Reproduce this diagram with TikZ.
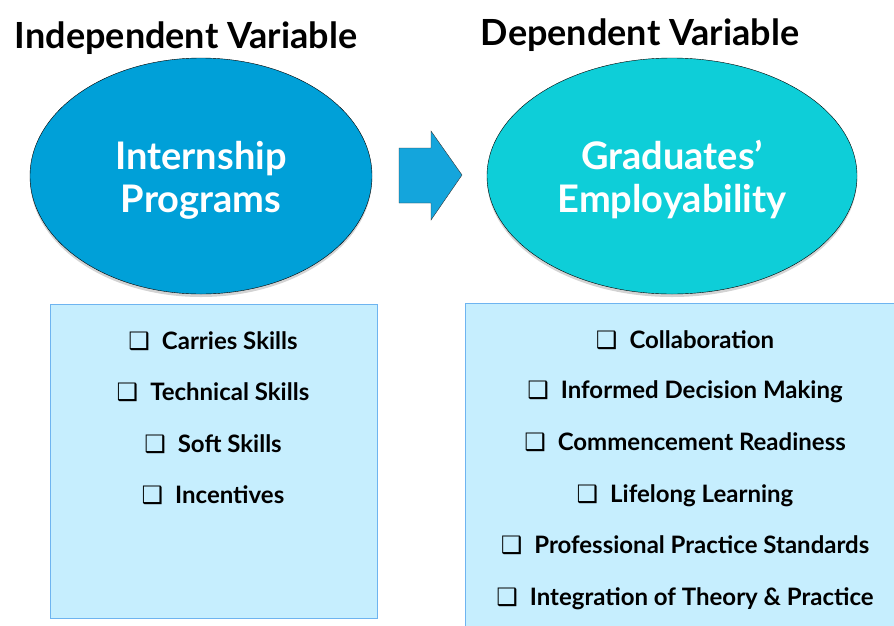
\documentclass[tikz,border=0pt]{standalone}
\usepackage{fontspec}
\setmainfont{Lato}
\newfontfamily\boxfont{DejaVu Sans}
\usetikzlibrary{shapes.geometric,shadows}

\definecolor{ivblue}{RGB}{0,160,216}
\definecolor{dvcyan}{RGB}{14,206,216}
\definecolor{arrowblue}{RGB}{20,165,220}
\definecolor{listfill}{RGB}{198,238,254}
\definecolor{listline}{RGB}{110,180,240}
\newcommand{\chk}{{\boxfont\char"2751}\hspace{0.5em}}

\begin{document}
\begin{tikzpicture}[x=1pt, y=-1pt,
  title/.style={anchor=base, font=\fontsize{36}{36}\selectfont\bfseries},
  var/.style={ellipse, draw=black, thin, inner sep=0pt, text=white, align=center,
    font=\fontsize{38}{43}\selectfont\bfseries,
    drop shadow={shadow xshift=0pt, shadow yshift=-3pt, opacity=.35}},
  list/.style={draw=listline, thick, fill=listfill, inner sep=0pt},
  item/.style={anchor=base, font=\fontsize{24}{24}\selectfont\bfseries}]
\useasboundingbox (0,0) rectangle (894,625);

% titles
\node[title] (ivtitle) at (186,48) {Independent Variable};
\node[title] (dvtitle) at (640,45) {Dependent Variable};

% variables
\node[var, fill=ivblue, minimum width=342, minimum height=236] (iv) at (201,176) {};
\node[var, fill=dvcyan, minimum width=370, minimum height=236] (dv) at (672,176) {};
\node[text=white, align=center, font=\fontsize{38}{43}\selectfont\bfseries] (ivtext) at (201,180) {Internship\\Programs};
\node[text=white, align=center, font=\fontsize{38}{43}\selectfont\bfseries] (dvtext) at (672,180) {Graduates’\\Employability};

% block arrow
\draw[fill=arrowblue, draw=black!80, line join=miter] (399,148) -- (431,148) -- (431,131) -- (462,175)
  -- (431,220) -- (431,203) -- (399,203) -- cycle;

% lists
\node[list, minimum width=327, minimum height=314] (ivbox) at (213.5,461) {};
\node[list, minimum width=434, minimum height=330] (dvbox) at (682,468) {};

\node[item] (iv1) at (213,349) {\chk Carries Skills};
\node[item] (iv2) at (213,400) {\chk Technical Skills};
\node[item] (iv3) at (213,452) {\chk Soft Skills};
\node[item] (iv4) at (213,503) {\chk Incentives};

\node[item] (dv1) at (685,348) {\chk Collaboration};
\node[item] (dv2) at (685,398) {\chk Informed Decision Making};
\node[item] (dv3) at (685,450) {\chk Commencement Readiness};
\node[item] (dv4) at (685,502) {\chk Lifelong Learning};
\node[item] (dv5) at (685,553) {\chk Professional Practice Standards};
\node[item] (dv6) at (685,605) {\chk Integration of Theory \& Practice};
\end{tikzpicture}
\end{document}
